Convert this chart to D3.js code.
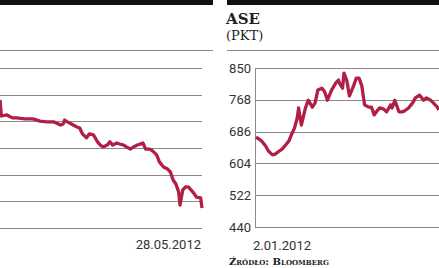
<!DOCTYPE html>
<html>
<head>
<meta charset="utf-8">
<script src="https://cdn.jsdelivr.net/npm/d3@7"></script>
<style>
  body { margin: 0; background: #fff; overflow: hidden; }
  svg { display: block; }
  .tick-label { font-family: "Liberation Sans Narrow", "Roboto", sans-serif; font-size: 13px; fill: #333; }
</style>
</head>
<body>
<div class="chart"></div>
<script>
// data: days counted from 2.01.2012
const leftDays = [0, 1, 5, 9, 12, 18, 24, 29, 34, 39, 41, 44, 46, 47, 49, 52, 56, 58, 60, 63, 65, 68, 71, 73, 75, 78,
  80, 82, 85, 87, 90, 92, 95, 97, 100, 102, 104, 106, 109, 111, 114, 116, 119, 122, 124, 126, 128, 130, 131,
  133, 135, 137, 139, 141, 143, 146, 147];
const leftValues = [480, 420, 424, 413, 413, 409, 409, 401, 398, 398, 394, 386, 390, 405, 398, 390, 379, 375, 353, 338,
  353, 349, 323, 311, 304, 311, 323, 311, 319, 315, 311, 304, 296, 304, 311, 315, 319, 296, 296, 289, 274,
  248, 229, 221, 210, 180, 165, 135, 86, 143, 154, 154, 143, 131, 116, 113, 75];
const leftTicks = [0, 100, 200, 300, 400, 500, 600];

const aseDays = [0, 2, 4, 7, 9, 12, 14, 17, 19, 21, 24, 26, 28, 30, 31, 33, 36, 38, 41, 43, 45, 48, 50, 52, 55, 58,
  60, 61, 63, 64, 66, 68, 71, 73, 75, 77, 79, 82, 84, 86, 88, 90, 93, 95, 98, 99, 101, 104, 106, 108, 111,
  114, 116, 119, 122, 124, 127, 129, 132, 133];
const aseValues = [672, 667, 662, 649, 636, 626, 628, 636, 641, 649, 662, 680, 695, 721, 747, 703, 747, 767, 749, 760,
  793, 798, 788, 767, 793, 811, 819, 809, 798, 837, 819, 778, 804, 824, 824, 804, 755, 749, 749, 729, 739,
  747, 744, 737, 755, 747, 767, 737, 737, 739, 747, 760, 773, 780, 767, 773, 767, 760, 749, 742];
const aseTicks = [440, 522, 604, 686, 768, 850];

const startDate = new Date(2012, 0, 2);
const endDate = new Date(2012, 4, 28);

const svgWidth = 439;
const svgHeight = 268;
const lineColor = "#b11f47";

const svg = d3.select(".chart")
  .append("svg")
  .attr("width", svgWidth)
  .attr("height", svgHeight);

const toDate = d => d3.timeDay.offset(startDate, d);

// top bars and header rules
[[0, 213], [227, 439]].forEach(([x0, x1]) => {
  svg.append("rect")
    .attr("x", x0).attr("y", 0)
    .attr("width", x1 - x0).attr("height", 5)
    .attr("fill", "#111");
  svg.append("line")
    .attr("x1", x0).attr("x2", x1)
    .attr("y1", 50.5).attr("y2", 50.5)
    .attr("stroke", "#888").attr("stroke-width", 1);
});

// ---------- left panel (cut off) ----------
const xLeft = d3.scaleTime().domain([startDate, endDate]).range([0, 202]);
const yLeft = d3.scaleLinear().domain([0, 600]).range([228, 68]);

svg.append("g")
  .selectAll("line")
  .data(leftTicks)
  .join("line")
  .attr("x1", 0).attr("x2", 202)
  .attr("y1", d => Math.round(yLeft(d)) + 0.5)
  .attr("y2", d => Math.round(yLeft(d)) + 0.5)
  .attr("stroke", "#8a8a8a");

const lineLeft = d3.line()
  .x((d, i) => xLeft(toDate(leftDays[i])))
  .y(d => yLeft(d));

svg.append("path")
  .attr("d", lineLeft(leftValues))
  .attr("fill", "none")
  .attr("stroke", lineColor)
  .attr("stroke-width", 3.3)
  .attr("stroke-linejoin", "round");

svg.append("text")
  .attr("class", "tick-label")
  .attr("x", 201).attr("y", 249)
  .attr("text-anchor", "end")
  .text("28.05.2012");

// ---------- ASE panel ----------
const xAse = d3.scaleTime().domain([startDate, endDate]).range([256, 458]);
const yAse = d3.scaleLinear().domain([440, 850]).range([227, 68]);

svg.append("g")
  .selectAll("line")
  .data(aseTicks)
  .join("line")
  .attr("x1", 255).attr("x2", 458)
  .attr("y1", d => Math.round(yAse(d)) + 0.5)
  .attr("y2", d => Math.round(yAse(d)) + 0.5)
  .attr("stroke", "#8a8a8a");

svg.append("line")
  .attr("x1", 255.5).attr("x2", 255.5)
  .attr("y1", yAse(850)).attr("y2", yAse(440) + 0.5)
  .attr("stroke", "#8a8a8a");

svg.append("g")
  .selectAll("text")
  .data(aseTicks)
  .join("text")
  .attr("class", "tick-label")
  .attr("x", 251)
  .attr("y", d => yAse(d))
  .attr("dy", "0.35em")
  .attr("text-anchor", "end")
  .text(d => d);

const lineAse = d3.line()
  .x((d, i) => xAse(toDate(aseDays[i])))
  .y(d => yAse(d));

svg.append("path")
  .attr("d", lineAse(aseValues))
  .attr("fill", "none")
  .attr("stroke", lineColor)
  .attr("stroke-width", 3.3)
  .attr("stroke-linejoin", "round");

svg.append("text")
  .attr("class", "tick-label")
  .attr("x", 253).attr("y", 250)
  .text("2.01.2012");

// titles
svg.append("text")
  .attr("x", 226).attr("y", 24)
  .style("font-family", "'DejaVu Serif', serif")
  .style("font-weight", "bold")
  .style("font-size", "15px")
  .attr("fill", "#222")
  .text("ASE");

svg.append("text")
  .attr("x", 226).attr("y", 40)
  .style("font-family", "'DejaVu Serif', serif")
  .style("font-size", "13px")
  .attr("fill", "#222")
  .text("(PKT)");

svg.append("text")
  .attr("x", 229).attr("y", 265)
  .style("font-family", "'DejaVu Serif', serif")
  .style("font-weight", "bold")
  .style("font-size", "10px")
  .style("font-variant", "small-caps")
  .attr("fill", "#222")
  .text("Źródło: Bloomberg");
</script>
</body>
</html>
